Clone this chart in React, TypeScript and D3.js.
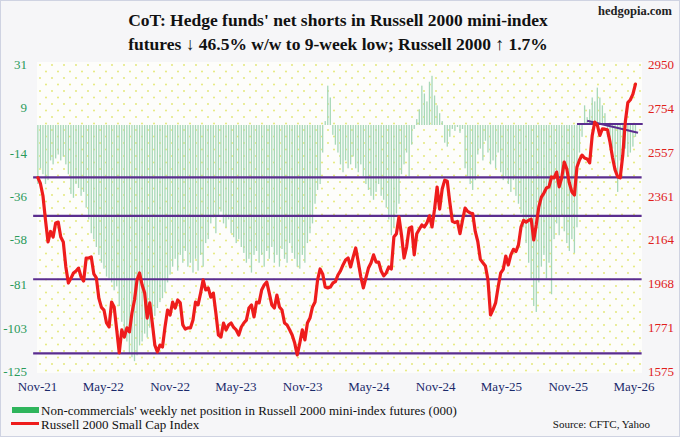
import { useMemo } from 'react'
import * as d3 from 'd3'

// ── data ─────────────────────────────────────────────────────────────────────
// weekly, first week 2021-11-02
const FIRST_WEEK = '2021-11-02'

// non-commercials' net position, Russell 2000 mini futures (000)
const netPos = [
  -30, -22, -25, -30, -28, -18, -20, -17, -15, -18, -16, -20, -25, -35, -37, -30, -32, -36, -34, -42,
  -48, -55, -58, -62, -66, -70, -73, -77, -78, -80, -84, -82, -92, -100, -105, -110, -116, -118, -120, -117,
  -112, -110, -106, -108, -103, -100, -97, -93, -90, -88, -85, -80, -76, -72, -68, -74, -66, -70, -64, -72,
  -70, -75, -68, -74, -66, -72, -60, -58, -50, -47, -55, -46, -44, -50, -52, -48, -55, -57, -60, -58,
  -62, -65, -70, -68, -75, -66, -64, -70, -66, -72, -64, -68, -62, -70, -66, -72, -63, -68, -70, -60,
  -65, -68, -72, -73, -66, -70, -60, -55, -50, -40, -33, -30, -14, 2, 20, 14, -5, -10, -14, -20,
  -24, -18, -22, -20, -16, -22, -24, -20, -26, -30, -33, -36, -38, -34, -30, -36, -38, -42, -48, -56,
  -52, -45, -40, -25, -20, -14, -26, -10, -2, 3, 8, 20, 16, 12, 22, 25, 15, 10, 6, 2,
  -9, -11, -6, -2, -3, -1, -4, -2, -22, -26, -30, -33, -28, -15, -12, -18, -8, -14, -20, -18,
  -22, -14, -24, -28, -26, -30, -34, -28, -36, -40, -45, -52, -60, -70, -78, -92, -95, -80, -72, -66,
  -78, -70, -86, -58, -50, -56, -46, -54, -60, -64, -58, -65, -52, -14, -6, 10, 4, 8, 14, 12,
  19, 14, 10, 6, -6, -9, -12, -20, -34, -18, -15, -12, -16, -14, -11, -6,
]

// Russell 2000 small cap index
const r2k = [
  2441, 2415, 2360, 2251, 2153, 2200, 2175, 2238, 2242, 2175, 2153, 2041, 1969, 1990, 2014, 2023, 2036, 1996, 1978, 2081,
  2081, 2086, 2010, 1992, 1900, 1860, 1848, 1790, 1772, 1884, 1862, 1760, 1656, 1759, 1727, 1768, 1750, 1835, 1893, 1983,
  2014, 1960, 1924, 1812, 1880, 1790, 1691, 1660, 1691, 1682, 1772, 1848, 1826, 1884, 1857, 1893, 1880, 1781, 1763, 1768,
  1768, 1803, 1884, 1871, 1924, 1983, 1938, 1947, 1906, 1924, 1835, 1736, 1727, 1790, 1759, 1781, 1790, 1770, 1759, 1736,
  1772, 1790, 1803, 1857, 1871, 1817, 1884, 1880, 1938, 1960, 1974, 1924, 1871, 1857, 1915, 1862, 1848, 1790, 1781, 1760,
  1736, 1700, 1647, 1700, 1759, 1714, 1790, 1812, 1862, 1884, 1983, 2032, 2010, 1951, 1947, 1951, 1969, 1975, 2005, 2023,
  2050, 2072, 2081, 2041, 2086, 2126, 2063, 1996, 1947, 1992, 2036, 2059, 2095, 2063, 2063, 2023, 2001, 2014, 2041, 2032,
  2175, 2190, 2265, 2184, 2081, 2130, 2215, 2220, 2095, 2190, 2210, 2229, 2220, 2238, 2270, 2220, 2300, 2399, 2300, 2390,
  2430, 2425, 2330, 2245, 2240, 2245, 2190, 2250, 2305, 2290, 2283, 2280, 2200, 2155, 2075, 2060, 2045, 1983, 1826, 1850,
  1880, 1951, 2014, 2030, 2090, 2050, 2095, 2120, 2110, 2140, 2220, 2250, 2242, 2250, 2255, 2162, 2230, 2310, 2354, 2372,
  2395, 2400, 2444, 2440, 2466, 2400, 2440, 2511, 2480, 2417, 2377, 2363, 2489, 2520, 2542, 2529, 2525, 2507, 2630, 2690,
  2677, 2630, 2660, 2658, 2655, 2600, 2530, 2475, 2445, 2440, 2540, 2690, 2777, 2790, 2815, 2860,
]

// support / resistance levels on the index
const levels = [2442, 2270, 1986, 1654]
const levelSpan = ['2021-10-20', '2026-05-22']
// short trendlines near the recent high
const trendFlat = { from: '2025-11-25', to: '2026-05-25', value: 2681 }
const trendDown = { from: '2025-12-23', to: '2026-05-12', v0: 2696, v1: 2642 }

const leftTicks  = [31, 9, -14, -36, -58, -81, -103, -125]
const rightTicks = [2950, 2754, 2557, 2361, 2164, 1968, 1771, 1575]
const xTickLabels = ['Nov-21', 'May-22', 'Nov-22', 'May-23', 'Nov-23', 'May-24', 'Nov-24', 'May-25', 'Nov-25', 'May-26']
const xTickDates  = ['2021-11-01', '2022-05-01', '2022-11-01', '2023-05-01', '2023-11-01', '2024-05-01', '2024-11-01', '2025-05-01', '2025-11-01', '2026-05-01']

// ── constants ────────────────────────────────────────────────────────────────
const W = 680
const H = 437
const PLOT = { x0: 37, x1: 642, y0: 62, y1: 373 }
const SERIF  = '"Liberation Serif", "Times New Roman", serif'
const CBAR   = '#a7d8b8'
const CRED   = '#ee1c1c'
const CPURP  = '#5a2d8f'
const CGREEN = '#2a9a5a'
const CNAVY  = '#1b2a6b'

const parse = d3.timeParse('%Y-%m-%d')
const dt = (s: string) => parse(s) as Date

export default function App() {
  const x = useMemo(() => d3.scaleTime()
    .domain([dt('2021-11-01'), dt('2026-05-01')])
    .range([37.5, 634]), [])
  const yL = useMemo(() => d3.scaleLinear().domain([-125, 31]).range([371, 64]), [])
  const yR = useMemo(() => d3.scaleLinear().domain([1575, 2950]).range([371, 64]), [])

  const start = dt(FIRST_WEEK)
  const dates = netPos.map((_, i) => d3.timeDay.offset(start, 7 * i))

  const line = d3.line<number>()
    .x((_, i) => x(dates[i]))
    .y(v => yR(v))

  const zero = yL(0)

  return (
    <div style={{ position: 'fixed', left: 0, top: 0 }}>
      <svg width={W} height={H} style={{ display: 'block', fontFamily: SERIF }}>
        <defs>
          <pattern id="dots" width={12} height={13} patternUnits="userSpaceOnUse" x={PLOT.x0} y={PLOT.y0}>
            <circle cx={3} cy={3} r={0.9} fill="#e2e66e" />
            <circle cx={9} cy={9.5} r={0.9} fill="#e2e66e" />
          </pattern>
        </defs>

        <rect x={0.5} y={0.5} width={W - 1} height={H - 1} fill="#f6f6f8" stroke="#cfd3e2" />
        <rect x={PLOT.x0} y={PLOT.y0} width={PLOT.x1 - PLOT.x0} height={PLOT.y1 - PLOT.y0} fill="#fdfdfb" />
        <rect x={PLOT.x0} y={PLOT.y0} width={PLOT.x1 - PLOT.x0} height={PLOT.y1 - PLOT.y0} fill="url(#dots)" />

        {/* title */}
        <text x={672} y={15} textAnchor="end" fontSize={12.5} fontWeight="bold" fill="#222">hedgopia.com</text>
        <text x={338} y={26} textAnchor="middle" fontSize={17.5} fontWeight="bold" fill="#111">
          CoT: Hedge funds' net shorts in Russell 2000 mini-index
        </text>
        <text x={338} y={50} textAnchor="middle" fontSize={17.5} fontWeight="bold" fill="#111">
          futures ↓ 46.5% w/w to 9-week low; Russell 2000 ↑ 1.7%
        </text>

        {/* net position bars */}
        <g>
          {netPos.map((v, i) => (
            <rect key={i}
              x={x(dates[i]) - 0.65}
              y={Math.min(zero, yL(v))}
              width={1.3}
              height={Math.abs(yL(v) - zero)}
              fill={CBAR} />
          ))}
        </g>

        {/* support levels */}
        {levels.map(v => (
          <line key={v}
            x1={x(dt(levelSpan[0]))} x2={x(dt(levelSpan[1]))}
            y1={yR(v)} y2={yR(v)}
            stroke={CPURP} strokeWidth={2.2} />
        ))}
        <line x1={x(dt(trendFlat.from))} x2={x(dt(trendFlat.to))}
          y1={yR(trendFlat.value)} y2={yR(trendFlat.value)}
          stroke={CPURP} strokeWidth={2} />
        <line x1={x(dt(trendDown.from))} x2={x(dt(trendDown.to))}
          y1={yR(trendDown.v0)} y2={yR(trendDown.v1)}
          stroke={CPURP} strokeWidth={2} />

        {/* index */}
        <path d={line(r2k) ?? ''} fill="none" stroke={CRED} strokeWidth={3.2}
          strokeLinejoin="round" strokeLinecap="round" />

        {/* axes */}
        {leftTicks.map(v => (
          <text key={v} x={27} y={yL(v) + 5} textAnchor="end" fontSize={13} fill={CGREEN}>{v}</text>
        ))}
        {rightTicks.map(v => (
          <text key={v} x={648} y={yR(v) + 5} fontSize={13} fill="#e0201b">{v}</text>
        ))}
        {xTickLabels.map((s, i) => (
          <text key={s} x={x(dt(xTickDates[i]))} y={391} textAnchor="middle" fontSize={13} fill={CNAVY}>{s}</text>
        ))}

        {/* legend */}
        <rect x={12} y={407} width={27} height={6} fill="#2fb55c" />
        <text x={41} y={414.5} fontSize={13} fill="#111">
          Non-commercials' weekly net position in Russell 2000 mini-index futures (000)
        </text>
        <line x1={11} x2={39} y1={423.5} y2={423.5} stroke={CRED} strokeWidth={3} />
        <text x={41} y={428.5} fontSize={13} fill="#111">Russell 2000 Small Cap Index</text>
        <text x={650} y={428} textAnchor="end" fontSize={11} fill="#111">Source: CFTC, Yahoo</text>
      </svg>
    </div>
  )
}
